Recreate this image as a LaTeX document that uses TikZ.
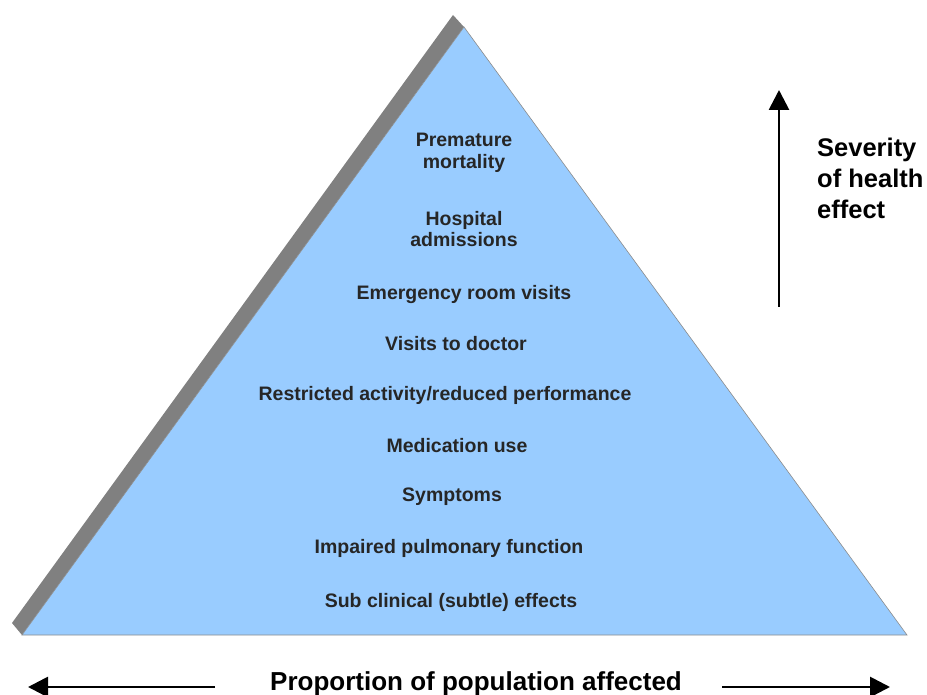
\documentclass[tikz,border=0pt]{standalone}
\usepackage{fontspec}
\setmainfont{Liberation Sans}
\usetikzlibrary{
	arrows.meta,
	calc
}
\definecolor{pyramidblue}{RGB}{153,204,255}
\definecolor{shadowgray}{RGB}{128,128,128}
\tikzset{
	level label/.style={
		font=\bfseries\fontsize{19.5}{21.5}\selectfont,
		align=center,
		text=black!85,
		inner sep=0pt
	},
	axis label/.style={
		font=\bfseries\fontsize{25.5}{31}\selectfont,
		inner sep=0pt
	},
	axis arrow/.style={
		line width=2.8pt,
		-{Triangle[length=20pt,width=20pt]}
	}
}
\begin{document}
\begin{tikzpicture}[x=1pt,y=-1pt]
		\useasboundingbox (0,0) rectangle (927,695);
		% shadow and pyramid
		\fill [shadowgray] (453,15) -- (12,623) -- (22,635) -- (464,27) -- cycle;
		\draw [fill=pyramidblue, draw=black!45, line width=0.6pt]
			(464,27) -- (907,635) -- (22,635) -- cycle;
		% levels
		\node [level label] (mort) at (464,153) {Premature\\mortality};
		\node [level label] (hosp) at (464,229) {Hospital\\admissions};
		\node [level label] (emer) at (464,295) {Emergency room visits};
		\node [level label] (doct) at (456,344) {Visits to doctor};
		\node [level label] (rest) at (445,395) {Restricted activity/reduced performance};
		\node [level label] (medi) at (457,446) {Medication use};
		\node [level label] (symp) at (452,497) {Symptoms};
		\node [level label] (pulm) at (449,548) {Impaired pulmonary function};
		\node [level label] (subc) at (451,602) {Sub clinical (subtle) effects};
		% severity axis
		\coordinate (sevlow) at (779,307);
		\coordinate (sevhigh) at (779,90);
		\draw [axis arrow] (sevlow) -- (sevhigh);
		\node [axis label, align=left, anchor=west] (sev) at (817,178) {Severity\\of health\\effect};
		% population axis
		\node [axis label, font=\bfseries\fontsize{26}{30}\selectfont] (prop) at (476,684) {Proportion of population affected};
		\coordinate (propleft) at (28,687);
		\coordinate (propright) at (890,687);
		\coordinate (propstartl) at (215,687);
		\coordinate (propstartr) at (722,687);
		\draw [axis arrow] (propstartl) -- (propleft);
		\draw [axis arrow] (propstartr) -- (propright);
\end{tikzpicture}
\end{document}
